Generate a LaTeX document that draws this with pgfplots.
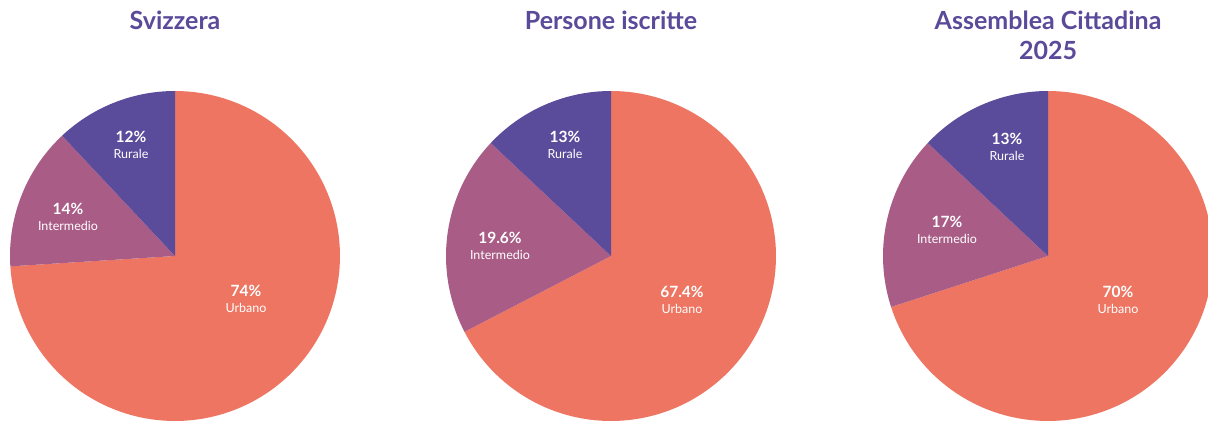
\documentclass[border=0pt]{standalone}
\usepackage{pgfplots}
\pgfplotsset{compat=1.18}
\usepackage{fontspec}
\setmainfont{Lato}
\definecolor{urb}{HTML}{EE7562}
\definecolor{int}{HTML}{A95C85}
\definecolor{rur}{HTML}{5B4B9B}
\definecolor{ttl}{HTML}{5B4A9A}
% values: Urbano, Intermedio, Rurale
\newcommand{\pie}[4]{% #1 x-center (pt), #2 urb, #3 int, #4 rur
  \pgfmathsetmacro\aA{90}%
  \pgfmathsetmacro\aB{90-3.6*#2}%
  \pgfmathsetmacro\aC{\aB-3.6*#3}%
  \pgfmathsetmacro\aD{\aC-3.6*#4}%
  \begin{axis}[at={(#1pt,165pt)}, anchor=center, x=165pt, y=165pt,
      xmin=-1, xmax=1, ymin=-1, ymax=1, hide axis, clip=false]
    \addplot[fill=urb, draw=none, domain=\aB:\aA, samples=120] ({cos(x)},{sin(x)}) -- (axis cs:0,0) -- cycle;
    \addplot[fill=int, draw=none, domain=\aC:\aB, samples=40] ({cos(x)},{sin(x)}) -- (axis cs:0,0) -- cycle;
    \addplot[fill=rur, draw=none, domain=\aD:\aC, samples=40] ({cos(x)},{sin(x)}) -- (axis cs:0,0) -- cycle;
  \end{axis}}
\newcommand{\lab}[4]{\node[white, align=center, inner sep=0pt] at ({#1pt},{421pt-#2pt}) {\fontsize{15.5}{18}\selectfont\bfseries #3\\[3.5pt]\fontsize{12.5}{15}\selectfont #4};}
\begin{document}
\begin{tikzpicture}
\useasboundingbox (0,0) rectangle (1208pt,421pt);
\clip (0,0) rectangle (1208pt,421pt);
\fill[white] (0,0) rectangle (1208pt,421pt);
\pie{175}{74}{14}{12}
\pie{611}{67.4}{19.6}{13}
\pie{1048}{70}{17}{13}
\lab{131}{145}{12\%}{Rurale}
\lab{68}{217}{14\%}{Intermedio}
\lab{246}{299}{74\%}{Urbano}
\lab{565}{145}{13\%}{Rurale}
\lab{500}{246}{19.6\%}{Intermedio}
\lab{682}{300}{67.4\%}{Urbano}
\lab{1007}{147}{13\%}{Rurale}
\lab{947}{230}{17\%}{Intermedio}
\lab{1118}{300}{70\%}{Urbano}
\node[ttl, font=\fontsize{25}{29}\selectfont\bfseries] at (175pt,401pt) {Svizzera};
\node[ttl, font=\fontsize{25}{29}\selectfont\bfseries] at (611pt,401pt) {Persone iscritte};
\node[ttl, font=\fontsize{25}{30}\selectfont\bfseries, align=center] at (1048pt,386pt) {Assemblea Cittadina\\2025};
\end{tikzpicture}
\end{document}
